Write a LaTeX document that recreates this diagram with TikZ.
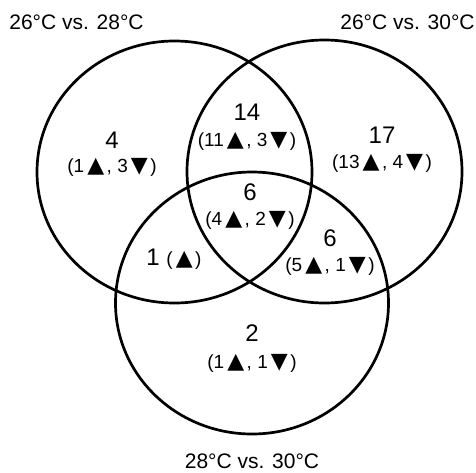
\documentclass[tikz,border=0pt]{standalone}
\usepackage{fontspec}
\setmainfont{Liberation Sans}
\newfontfamily\symfont{DejaVu Sans}
\newcommand\upt{\hspace{3pt}{\symfont\fontsize{22}{22}\selectfont ▲}\hspace{2.5pt}}
\newcommand\dnt{\hspace{3pt}{\symfont\fontsize{22}{22}\selectfont ▼}\hspace{2.5pt}}
\begin{document}
\begin{tikzpicture}[x=1pt,y=-1pt,
  ring/.style={draw=black,line width=2.7pt},
  setlabel/.style={font=\fontsize{21}{21}\selectfont,inner sep=0pt},
  bignum/.style={font=\fontsize{24}{24}\selectfont,inner sep=0pt},
  smalltxt/.style={font=\fontsize{19}{19}\selectfont,inner sep=0pt}]
\useasboundingbox (0,0) rectangle (476,472);
\draw[ring] (174.5,172) ellipse [x radius=137.5, y radius=131];
\draw[ring] (324.5,171.5) ellipse [x radius=137.5, y radius=131.5];
\draw[ring] (252,303) ellipse [x radius=136.5, y radius=131];
\node[setlabel] (labA) at (76.5,22) {26°C vs. 28°C};
\node[setlabel] (labB) at (407.5,22) {26°C vs. 30°C};
\node[setlabel] (labC) at (252,461) {28°C vs. 30°C};
\node[bignum] (nA) at (112,140) {4};
\node[smalltxt] (sA) at (112,167) {(1\upt, 3\dnt)};
\node[bignum] (nAB) at (247,112) {14};
\node[smalltxt] (sAB) at (247,141) {(11\upt, 3\dnt)};
\node[bignum] (nB) at (382,135) {17};
\node[smalltxt] (sB) at (382,163) {(13\upt, 4\dnt)};
\node[bignum] (nABC) at (250,192) {6};
\node[smalltxt] (sABC) at (250,220) {(4\upt, 2\dnt)};
\node[anchor=base,inner sep=0pt] (nAC) at (174,265) {\fontsize{24}{24}\selectfont 1 \fontsize{19}{19}\selectfont (\upt)};
\node[bignum] (nBC) at (330,238) {6};
\node[smalltxt] (sBC) at (330,266) {(5\upt, 1\dnt)};
\node[bignum] (nC) at (252,333) {2};
\node[smalltxt] (sC) at (252,363) {(1\upt, 1\dnt)};
\end{tikzpicture}
\end{document}
